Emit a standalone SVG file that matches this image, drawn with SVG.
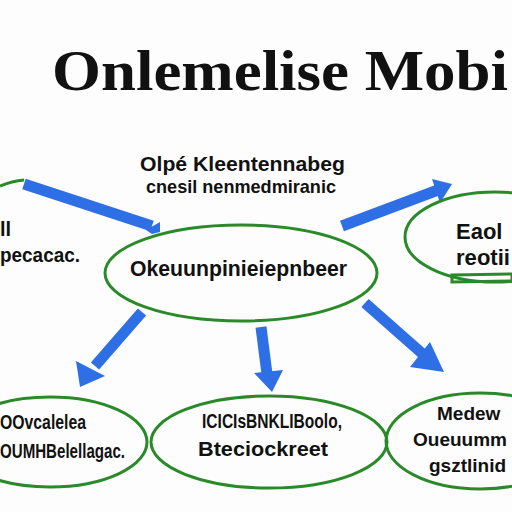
<svg xmlns="http://www.w3.org/2000/svg" width="512" height="512" viewBox="0 0 512 512">
<defs>
<style>
.node{fill:none;stroke:#2a8a2a;stroke-width:3}
.arrow{stroke:#2f6fe6;stroke-width:11;fill:none}
.head{fill:#2f6fe6}
.t{font-family:"Liberation Sans",Arial,sans-serif;font-weight:bold;fill:#111}
.title{font-family:"Liberation Serif","Times New Roman",serif;font-weight:bold;fill:#111;font-size:58px}
</style>
</defs>
<rect width="512" height="512" fill="#fdfdfd"/>
<text class="title" x="52" y="90" textLength="456" lengthAdjust="spacingAndGlyphs">Onlemelise Mobi</text>
<g id="label-top">
<text class="t" x="140" y="171" font-size="21" textLength="205" lengthAdjust="spacingAndGlyphs">Olpé Kleentennabeg</text>
<text class="t" x="146" y="193" font-size="19" textLength="190" lengthAdjust="spacingAndGlyphs">cnesil nenmedmiranic</text>
</g>
<g id="connectors">
<path class="arrow" d="M24 184 L152 226"/>
<path class="head" d="M146 230 L160 222 L160 232 L152 234 Z"/>
<path class="arrow" d="M342 226 L438 190"/>
<path class="head" d="M432 179 L452 184 L440 203 Z"/>
<path class="arrow" d="M142 312 L95 366"/>
<path class="head" d="M76 361 L105 376 L80 387 Z"/>
<path class="arrow" d="M261 327 L267 374"/>
<path class="head" d="M254 373 L283 370 L272 392 Z"/>
<path class="arrow" d="M365 303 L425 356"/>
<path class="head" d="M430 342 L444 372 L410 367 Z"/>
</g>
<g id="node-left">
<path class="node" d="M0 186 Q12 181 24 180"/>
<text class="t" x="0" y="236" font-size="20">ll</text>
<text class="t" x="0" y="262" font-size="20" textLength="80" lengthAdjust="spacingAndGlyphs">pecacac.</text>
</g>
<g id="node-center">
<ellipse class="node" cx="241" cy="273" rx="136" ry="48"/>
<text class="t" x="130" y="276" font-size="22" textLength="217" lengthAdjust="spacingAndGlyphs">Okeuunpinieiepnbeer</text>
</g>
<g id="node-right">
<ellipse class="node" cx="495" cy="237" rx="90" ry="45"/>
<path class="node" d="M452 275 L512 274 L512 281 L452 282 Z" stroke-width="2"/>
<text class="t" x="456" y="239" font-size="22">Eaol</text>
<text class="t" x="456" y="265" font-size="22" textLength="54" lengthAdjust="spacingAndGlyphs">reotii</text>
</g>
<g id="node-bottom-left">
<ellipse class="node" cx="50" cy="442" rx="97" ry="45"/>
<text class="t" x="0" y="429" font-size="21" textLength="86" lengthAdjust="spacingAndGlyphs">OOvcalelea</text>
<text class="t" x="0" y="458" font-size="20" textLength="125" lengthAdjust="spacingAndGlyphs">OUMHBelellagac.</text>
</g>
<g id="node-bottom-center">
<ellipse class="node" cx="269" cy="442" rx="118" ry="46"/>
<text class="t" x="202" y="428" font-size="21" textLength="140" lengthAdjust="spacingAndGlyphs">ICICIsBNKLIBoolo,</text>
<text class="t" x="198" y="456" font-size="21" textLength="130" lengthAdjust="spacingAndGlyphs">Bteciockreet</text>
</g>
<g id="node-bottom-right">
<ellipse class="node" cx="480" cy="441" rx="94" ry="48"/>
<text class="t" x="437" y="420" font-size="19">Medew</text>
<text class="t" x="413" y="446" font-size="19">Oueuumm</text>
<text class="t" x="429" y="472" font-size="19">gsztlinid</text>
</g>
</svg>
